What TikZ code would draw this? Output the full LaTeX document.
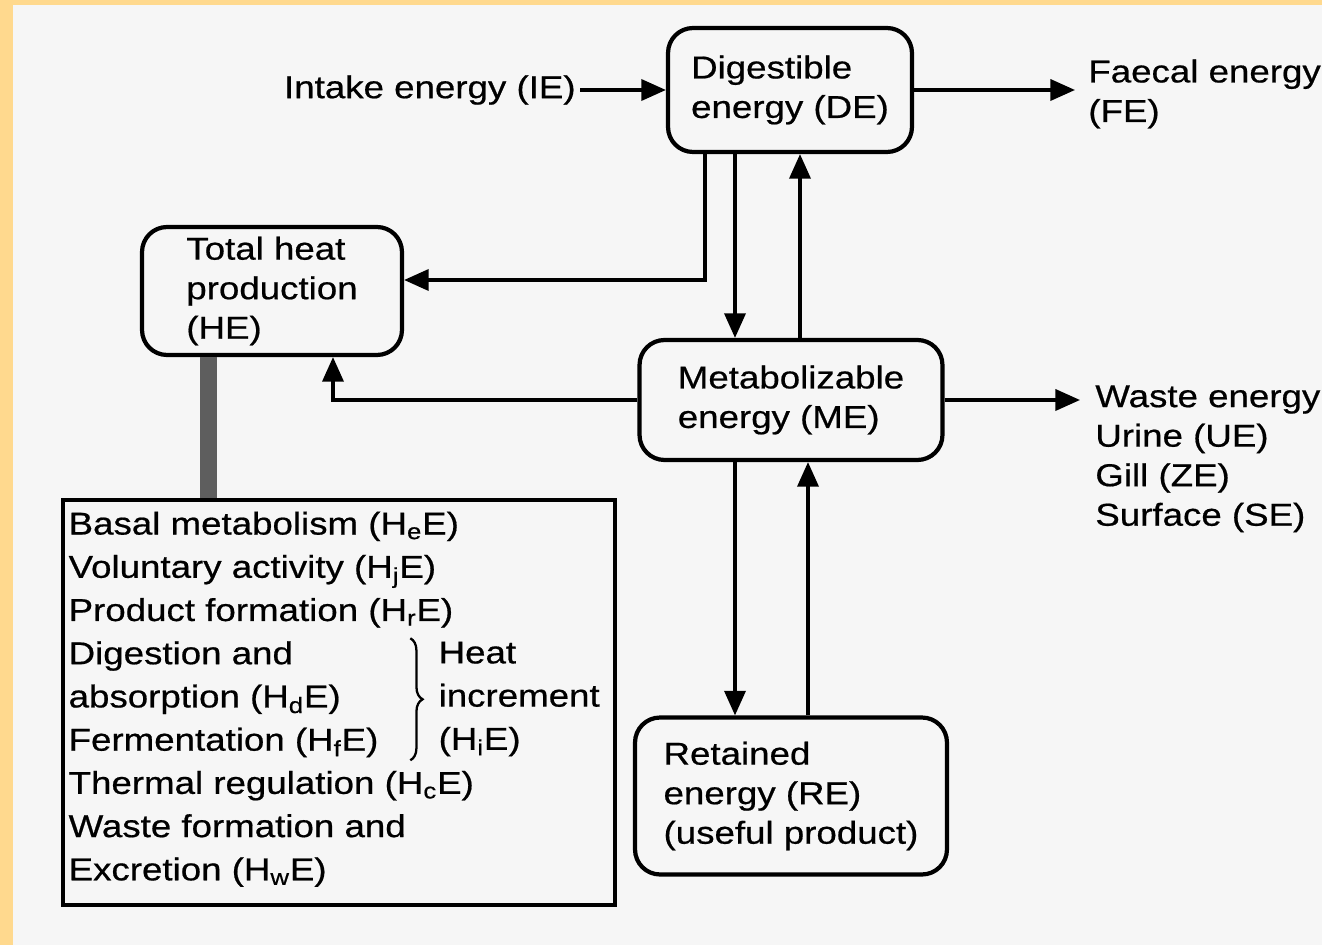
\documentclass[tikz,border=0pt]{standalone}
\usepackage{fontspec}
\setmainfont[FakeStretch=1.16,FakeBold=0.6]{Liberation Sans}
\usepackage{tikz}
\usetikzlibrary{arrows.meta,calc,decorations.pathreplacing}
\definecolor{frame}{HTML}{FFD98E}
\definecolor{paper}{HTML}{F6F6F6}
\definecolor{barfill}{HTML}{5E5E5E}

\begin{document}
\begin{tikzpicture}[
    x=0.02cm,y=-0.02cm,
    font=\fontsize{18}{22.5}\selectfont,
    box/.style={draw,line width=2.4pt,rounded corners=0.5cm,align=left,inner sep=0pt},
    lbl/.style={align=left,inner sep=0pt},
    arr/.style={-{Triangle[length=14pt,width=12pt]},line width=1.9pt},
    brc/.style={decorate,decoration={brace,amplitude=7pt},line width=1.3pt}
]
    % page
    \fill[frame] (0,0) rectangle (1322,945);
    \fill[paper] (13,5) rectangle (1322,945);
    \useasboundingbox (0,0) rectangle (1322,945);

    % energy boxes
    \node[box,minimum width=4.88cm,minimum height=2.48cm] (de) at (790,90) {Digestible\\energy (DE)};
    \node[box,minimum width=5.2cm,minimum height=2.56cm] (he) at (272,291) {Total heat\\production\\(HE)};
    \node[box,minimum width=6.06cm,minimum height=2.4cm] (me) at (791,400) {Metabolizable\\energy (ME)};
    \node[box,minimum width=6.24cm,minimum height=3.14cm] (re) at (791,796) {Retained\\energy (RE)\\(useful product)};

    % free labels
    \node[lbl,anchor=east] (ie) at (576,90) {Intake energy (IE)};
    \node[lbl,anchor=west] (fe) at (1088,94) {Faecal energy\\(FE)};
    \node[lbl,anchor=north west] (we) at (1095,385) {Waste energy\\Urine (UE)\\Gill (ZE)\\Surface (SE)};

    % heat production list
    \node[draw,line width=2pt,minimum width=11.04cm,minimum height=8.1cm,inner sep=0pt] (hbox) at (339,702.5) {};
    \node[lbl,anchor=north west,font=\fontsize{18}{24.6}\selectfont] (hitems) at ($(hbox.north west)+(7,13)$)
        {Basal metabolism (H\textsubscript{e}E)\\
         Voluntary activity (H\textsubscript{j}E)\\
         Product formation (H\textsubscript{r}E)\\
         Digestion and\\
         absorption (H\textsubscript{d}E)\\
         Fermentation (H\textsubscript{f}E)\\
         Thermal regulation (H\textsubscript{c}E)\\
         Waste formation and\\
         Excretion (H\textsubscript{w}E)};
    \node[lbl,anchor=north west,font=\fontsize{18}{24.6}\selectfont] (hinc) at ($(hbox.north west)+(377,143)$)
        {Heat\\increment\\(H\textsubscript{i}E)};
    \draw[brc] ($(hbox.north west)+(349,140)$) -- ($(hbox.north west)+(349,262)$);

    % connectors
    \coordinate (dk) at ($(de.south)+(-85,0)$);
    \coordinate (hk) at ($(he.east)+(0,-11)$);
    \coordinate (dd) at ($(de.south)+(-55,0)$);
    \coordinate (mu) at ($(me.north)+(9,0)$);
    \coordinate (md) at ($(me.south)+(-56,0)$);
    \coordinate (ru) at ($(re.north)+(17,0)$);
    \coordinate (hu) at ($(he.south)+(61,0)$);
    \coordinate (hb) at ($(he.south)+(-64,0)$);

    \draw[arr,shorten <=0.08cm] (ie.east) -- (de.west);
    \draw[arr,shorten >=0.26cm] (de.east) -- (de.east -| fe.west);
    \draw[arr] (dk) |- (hk);
    \draw[arr] (dd) -- (dd |- me.north);
    \draw[arr] (mu) -- (mu |- de.south);
    \draw[arr] (me.west) -| (hu);
    \draw[arr,shorten >=0.3cm] (me.east) -- (me.east -| we.west);
    \draw[arr] (md) -- (md |- re.north);
    \draw[arr] (ru) -- (ru |- me.south);
    \draw[barfill,line width=0.34cm] (hb) -- (hb |- hbox.north);
\end{tikzpicture}
\end{document}
